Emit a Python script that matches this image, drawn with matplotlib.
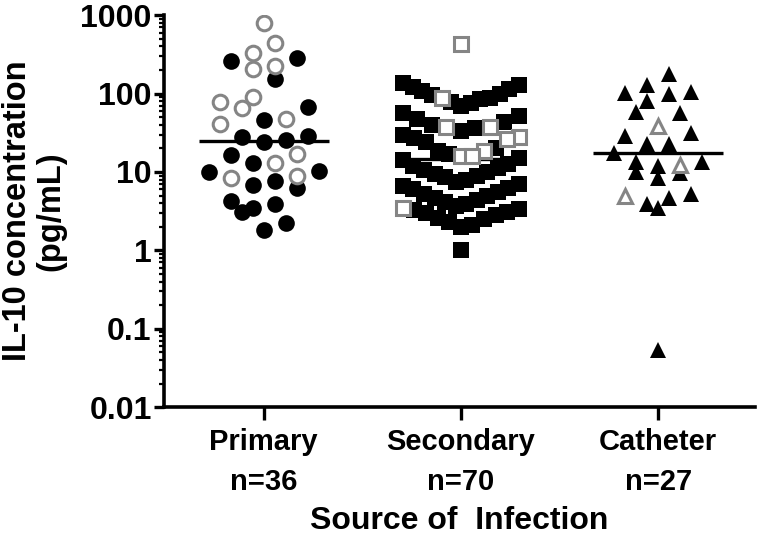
import matplotlib
matplotlib.use('Agg')
import matplotlib.pyplot as plt
import matplotlib.ticker as ticker
import numpy as np

# -------- Datos (IL-10, pg/mL) -------- #
categories = ['Primary', 'Secondary', 'Catheter']

primary_filled = [283, 259, 152, 67, 46, 28.5, 27.7, 25.3, 23.9, 16.3, 12.9,
                  10.2, 9.9, 7.6, 6.9, 6.2, 4.2, 3.9, 3.5, 3.1, 2.2, 1.8]
primary_open = [783, 439, 327, 223, 204, 90, 77, 65, 48, 41, 16.8, 12.9, 8.8, 8.3]

secondary_filled = [138, 128, 121, 113, 107, 100, 95, 88, 84, 79, 75, 70,
                    57, 52, 47, 43, 40, 36, 33, 30, 27, 24,
                    20, 18.5, 17, 15, 14, 12.8, 12,
                    11.2, 10.5, 10, 9.4, 9, 8.5, 8, 7.5, 7.1, 6.7, 6.3,
                    6.0, 5.6, 5.3, 5.0, 4.7, 4.4, 4.1, 3.9, 3.7, 3.4,
                    3.3, 3.1, 3.0, 2.8, 2.6, 2.5, 2.3, 2.1, 2.0,
                    1.0]
secondary_open = [426, 87, 37, 37, 27.7, 26, 18.3, 15.8, 15.8, 3.5]

catheter_filled = [176, 128, 104, 101, 98, 80, 58, 56, 31, 29, 23, 22.5, 17.3,
                   13.3, 13.3, 11.8, 9.9, 9.6, 8.3, 5.2, 4.7, 3.9, 3.5, 0.054]
catheter_open = [39, 12.1, 5.0]

filled = [primary_filled, secondary_filled, catheter_filled]
opened = [primary_open, secondary_open, catheter_open]
markers = ['o', 's', '^']
row_height = [22, 25, 20]

plt.rcParams['font.family'] = ['Liberation Sans', 'DejaVu Sans']
plt.rcParams['font.weight'] = 'bold'


# -------- Distribuir puntos por filas (estilo Prism) -------- #
def rows_layout(ypix, y0, row_h=20, s_max=22, width=116):
    xs = np.zeros(len(ypix))
    bins = np.floor((ypix - y0) / row_h).astype(int)
    for b in np.unique(bins):
        idx = np.where(bins == b)[0]
        idx = idx[np.argsort(ypix[idx], kind='stable')]
        n = len(idx)
        if n == 1:
            continue
        s = min(s_max, width / (n - 1))
        for r, i in enumerate(idx):
            if n % 2:
                slot = (r + 1) // 2 * (1 if r % 2 else -1)
            else:
                slot = (r // 2 + 0.5) * (-1 if r % 2 == 0 else 1)
            xs[i] = slot * s
    return xs


fig = plt.figure(figsize=(7.6, 5.4), dpi=100)
ax = fig.add_axes([0.216, 0.246, 0.777, 0.726])
ax.set_yscale('log')
ax.set_ylim(0.01, 1000)
ax.set_xlim(0.495, 3.49)

px_per_x = ax.transData.transform((1, 1))[0] - ax.transData.transform((0, 1))[0]
y_bottom = ax.transAxes.transform((0, 0))[1]

for k, cat in enumerate(categories):
    pos = k + 1
    vals = np.array(filled[k] + opened[k], dtype=float)
    is_open = np.array([False] * len(filled[k]) + [True] * len(opened[k]))
    ypix = ax.transData.transform(np.column_stack([np.full(len(vals), pos), vals]))[:, 1]
    x = pos + rows_layout(ypix, y_bottom, row_height[k]) / px_per_x

    ax.plot(x[~is_open], vals[~is_open], linestyle='none', marker=markers[k],
            markersize=12, color='black', markeredgewidth=0, zorder=3)
    ax.plot(x[is_open], vals[is_open], linestyle='none', marker=markers[k],
            markersize=10.5, markerfacecolor='white', markeredgecolor='#858585',
            markeredgewidth=2.2, zorder=4)

    ax.hlines(np.median(vals), pos - 0.33, pos + 0.33, color='black', linewidth=2.4, zorder=2)

# -------- Ejes -------- #
for side in ['top', 'right']:
    ax.spines[side].set_visible(False)
for side in ['left', 'bottom']:
    ax.spines[side].set_linewidth(2.6)

ax.yaxis.set_major_locator(ticker.LogLocator(base=10, numticks=10))
ax.yaxis.set_minor_locator(ticker.LogLocator(base=10, subs=np.arange(2, 10), numticks=10))
ax.yaxis.set_major_formatter(ticker.FuncFormatter(lambda v, p: f'{v:g}'))
ax.yaxis.set_minor_formatter(ticker.NullFormatter())
ax.tick_params(axis='y', which='major', length=7, width=2.4, labelsize=23, pad=2)
ax.tick_params(axis='y', which='minor', length=3.5, width=1.6)

ax.set_xticks([1, 2, 3])
ax.set_xticklabels([f'{c}\nn={len(filled[i]) + len(opened[i])}' for i, c in enumerate(categories)],
                   linespacing=1.55)
ax.tick_params(axis='x', length=9, width=2.4, labelsize=21, pad=6)

ax.set_ylabel('IL-10 concentration\n(pg/mL)', fontsize=23.5, fontweight='bold', labelpad=10,
              linespacing=1.1)
ax.set_xlabel('Source of  Infection', fontsize=23, fontweight='bold', labelpad=7)

fig.savefig('out.png', dpi=100, facecolor='white')
